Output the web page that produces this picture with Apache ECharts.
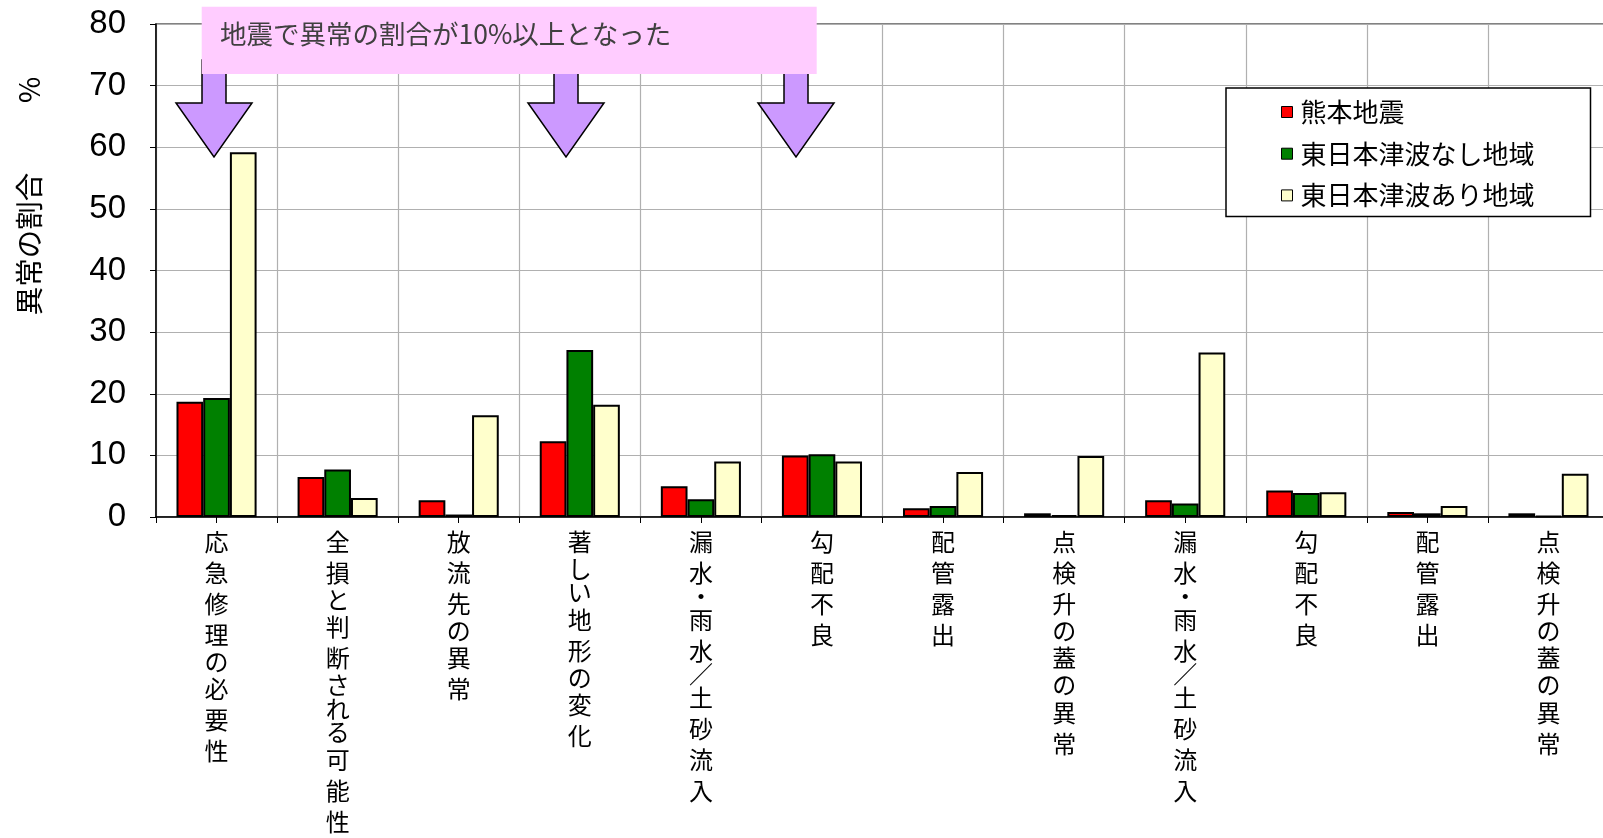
<!DOCTYPE html>
<html>
<head>
<meta charset="utf-8">
<script src="https://cdn.jsdelivr.net/npm/echarts@6/dist/echarts.min.js"></script>
<style>
html,body{margin:0;padding:0;background:#fff;}
#chart{width:1603px;height:838px;}
</style>
</head>
<body>
<div id="chart"></div>
<script>
const categories = ['応急修理の必要性','全損と判断される可能性','放流先の異常','著しい地形の変化','漏水・雨水／土砂流入','勾配不良','配管露出','点検升の蓋の異常','漏水・雨水／土砂流入','勾配不良','配管露出','点検升の蓋の異常'];
const seriesNames = ['熊本地震','東日本津波なし地域','東日本津波あり地域'];
const kumamoto = [18.7, 6.5, 2.7, 12.3, 5.0, 10.0, 1.4, 0.6, 2.7, 4.3, 0.8, 0.6];
const tsunamiNone = [19.3, 7.7, 0.4, 27.1, 2.9, 10.2, 1.8, 0.3, 2.2, 3.9, 0.6, 0.2];
const tsunamiYes = [59.2, 3.1, 16.5, 18.2, 9.0, 9.0, 7.3, 9.9, 26.7, 4.0, 1.8, 7.0];
const yTicks = [0, 10, 20, 30, 40, 50, 60, 70, 80];
const yAxisTitle = '異常の割合　　  %';
const noteText = '地震で異常の割合が10%以上となった';

const colors = ['#FF0000', '#008000', '#FFFFCC'];
const chart = echarts.init(document.getElementById('chart'), null, {renderer: 'canvas'});

function arrow(cx) {
  return {
    type: 'polygon', z: 100,
    shape: {points: [[cx-12,60],[cx+12,60],[cx+12,103],[cx+38,103],[cx,157],[cx-38,103],[cx-12,103]]},
    style: {fill: '#CC99FF', stroke: '#000', lineWidth: 1.5}
  };
}

// vertical (stacked) label: kanji full pitch, kana and punctuation shorter
function verticalLabel(v) {
  return v.split('').map(ch => {
    if (ch === '・' || ch === '／') return '{p|' + ch + '}';
    if (/[\u3040-\u309f]/.test(ch)) return '{h|' + ch + '}';
    return '{k|' + ch + '}';
  }).join('\n');
}
const labelFont = {fontFamily: '"Noto Sans CJK JP"', fontSize: 24, color: '#000'};

const barStyle = (c) => ({color: c, borderColor: '#000', borderWidth: 2});

const option = {
  animation: false,
  backgroundColor: '#fff',
  color: colors,
  grid: {left: 156, top: 24, width: 1453, height: 493, outerBoundsMode: 'none', containLabel: false, show: true, borderColor: '#5a5a5a', borderWidth: 1.5, backgroundColor: 'transparent'},
  legend: {
    orient: 'vertical', left: 1226, top: 88,
    padding: [9, 56, 6, 55],
    itemWidth: 11, itemHeight: 11, itemGap: 11.7,
    icon: 'rect',
    backgroundColor: '#fff', borderColor: '#000', borderWidth: 1.5,
    textStyle: {fontFamily: '"Noto Sans CJK JP"', fontSize: 26, lineHeight: 30, color: '#000', padding: [0, 0, 0, 3]},
    itemStyle: {borderColor: '#000', borderWidth: 1},
    data: seriesNames
  },
  xAxis: [{
    type: 'category', data: categories, boundaryGap: true,
    axisLine: {lineStyle: {color: '#000', width: 1.5}},
    axisTick: {show: true, length: 6, lineStyle: {color: '#000', width: 1}},
    splitLine: {show: true, lineStyle: {color: '#b0b0b0', width: 1.2}},
    axisLabel: {
      interval: 0, margin: 9,
      formatter: verticalLabel,
      fontFamily: '"Noto Sans CJK JP"', fontSize: 24, color: '#000',
      rich: {
        k: Object.assign({lineHeight: 31}, labelFont),
        h: Object.assign({lineHeight: 23.5}, labelFont),
        p: Object.assign({lineHeight: 16}, labelFont)
      }
    }
  }, {
    type: 'category', data: categories, position: 'bottom', gridIndex: 0,
    axisLine: {show: false},
    axisTick: {show: true, alignWithLabel: true, length: 6, lineStyle: {color: '#000', width: 1}},
    axisLabel: {show: false}, splitLine: {show: false}
  }],
  yAxis: {
    type: 'value', min: yTicks[0], max: yTicks[yTicks.length-1], interval: 10,
    axisLine: {show: true, lineStyle: {color: '#000', width: 1.5}},
    axisTick: {show: true, length: 6, lineStyle: {color: '#000', width: 1}},
    splitLine: {show: true, lineStyle: {color: '#b0b0b0', width: 1.2}},
    axisLabel: {fontFamily: '"Liberation Sans", Arial, sans-serif', fontSize: 33, color: '#000', margin: 30}
  },
  series: [
    {name: seriesNames[0], type: 'bar', data: kumamoto, barWidth: 26.7, barGap: '0%', itemStyle: barStyle(colors[0])},
    {name: seriesNames[1], type: 'bar', data: tsunamiNone, barWidth: 26.7, barGap: '0%', itemStyle: barStyle(colors[1])},
    {name: seriesNames[2], type: 'bar', data: tsunamiYes, barWidth: 26.7, barGap: '0%', itemStyle: barStyle(colors[2])}
  ],
  graphic: [
    arrow(214), arrow(566), arrow(796),
    {type: 'rect', z: 101, shape: {x: 201.7, y: 6.7, width: 615, height: 67.3}, style: {fill: '#FFCCFF'}},
    {type: 'text', z: 102, x: 220, y: 34, style: {text: noteText, font: '26.5px "Noto Sans CJK JP"', fill: '#404040', align: 'left', verticalAlign: 'middle', textVerticalAlign: 'middle'}},
    {type: 'text', z: 102, x: 29.5, y: 196, rotation: Math.PI/2, style: {text: yAxisTitle, font: '28.5px "Noto Sans CJK JP"', fill: '#000', align: 'center', textAlign: 'center', verticalAlign: 'middle', textVerticalAlign: 'middle'}}
  ]
};
chart.setOption(option);
</script>
</body>
</html>
